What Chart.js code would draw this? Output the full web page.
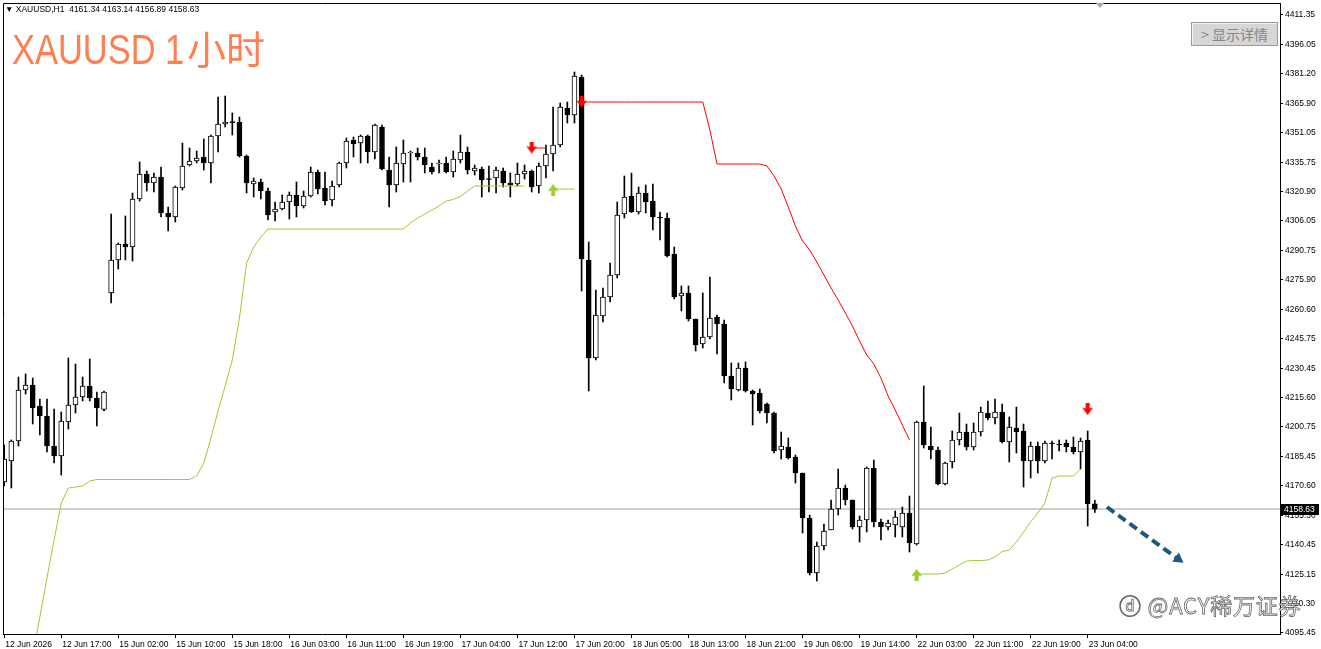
<!DOCTYPE html>
<html>
<head>
  <meta charset="utf-8" />
  <title>XAUUSD 1小时</title>
  <script src="https://cdn.jsdelivr.net/npm/chart.js"></script>
  <style>
    body { margin: 0; background: #fff; }
    #wrap { position: relative; width: 1321px; height: 649px; overflow: hidden; }
    #chart { position: absolute; left: 0; top: 0; }
    #info { position: absolute; left: 5px; top: 3px; font: 8.5px "Liberation Sans"; line-height: 13px; color: #000; white-space: pre; }
    #title { position: absolute; left: 12px; top: 24px; color: #ff7f50; font: 39px "Noto Sans CJK SC"; line-height: 46px; white-space: nowrap; }
    #title .lat { display: inline-block; font: 42px "Liberation Sans"; transform: scaleX(0.82); transform-origin: 0 0; margin-right: -35px; }
    #details { position: absolute; left: 1191px; top: 22px; width: 87px; height: 24px; box-sizing: border-box;
      background: #d6d6d6; border: 1px solid #9a9a9a; box-shadow: inset 1px 1px 0 #f4f4f4;
      color: #858585; font: 14px "Noto Sans CJK SC"; line-height: 22px; padding-left: 9px; white-space: nowrap; }
    #shift { position: absolute; left: 1096px; top: 3px; width: 0; height: 0;
      border-left: 4px solid transparent; border-right: 4px solid transparent; border-top: 5px solid #a8a8a8; }
    #mark { position: absolute; left: 1119px; top: 590px; font: 22px "Noto Sans CJK SC"; line-height: 28px; color: #fff;
      letter-spacing: 0.8px; -webkit-text-stroke: 0.8px #6a6a6a; white-space: nowrap; }
  </style>
</head>

<body>
  <div id="wrap">
    <canvas id="chart" width="1321" height="649"></canvas>
    <div id="info">▼ XAUUSD,H1  4161.34 4163.14 4156.89 4158.63</div>
    <div id="title"><span class="lat">XAUUSD 1</span>小时</div>
    <div id="details">&gt; 显示详情</div>
    <div id="shift"></div>
    <div id="mark">ⓓ @ACY稀万证券</div>
  </div>
</body>

<script>
  // time axis labels, one every 8 bars
  const timeLabels = [
    "12 Jun 2026", "12 Jun 17:00", "15 Jun 02:00", "15 Jun 10:00", "15 Jun 18:00",
    "16 Jun 03:00", "16 Jun 11:00", "16 Jun 19:00", "17 Jun 04:00", "17 Jun 12:00",
    "17 Jun 20:00", "18 Jun 05:00", "18 Jun 13:00", "18 Jun 21:00", "19 Jun 06:00",
    "19 Jun 14:00", "22 Jun 03:00", "22 Jun 11:00", "22 Jun 19:00", "23 Jun 04:00",
  ];
  const priceTicks = [
    4411.35, 4396.05, 4381.20, 4365.90, 4351.05, 4335.75, 4320.90, 4306.05, 4290.75, 4275.90, 4260.60,
    4245.75, 4230.45, 4215.60, 4200.75, 4185.45, 4170.60, 4155.30, 4140.45, 4125.15, 4110.30, 4095.45,
  ];

  // H1 candles, bar 0 = 12 Jun 09:00
  const opens = [
    4172.48, 4183.21, 4193.43, 4219.50, 4222.06, 4211.32, 4206.21, 4190.88, 4185.77, 4203.15,
    4211.84, 4215.93, 4221.55, 4215.41, 4209.54, 4269.09, 4285.96, 4294.13, 4292.60, 4317.14,
    4329.92, 4325.32, 4328.38, 4309.98, 4307.94, 4322.76, 4334.52, 4336.56, 4338.61, 4335.54,
    4349.34, 4355.47, 4356.50, 4356.50, 4339.12, 4324.80, 4325.83, 4321.23, 4310.49, 4312.03,
    4315.60, 4319.18, 4313.56, 4318.67, 4330.94, 4322.76, 4316.63, 4324.29, 4335.54, 4347.30,
    4345.76, 4349.34, 4341.16, 4353.94, 4331.96, 4324.29, 4335.03, 4340.65, 4340.65, 4338.61,
    4333.49, 4335.03, 4335.54, 4330.94, 4337.07, 4341.16, 4331.45, 4332.47, 4327.36, 4327.87,
    4331.45, 4325.32, 4324.80, 4329.92, 4331.45, 4323.78, 4334.01, 4340.14, 4344.74, 4363.65,
    4360.08, 4379.50, 4285.96, 4235.86, 4257.33, 4267.04, 4278.29, 4309.47, 4318.67, 4310.49,
    4320.20, 4316.11, 4307.94, 4307.42, 4289.02, 4267.55, 4269.09, 4255.80, 4243.02, 4246.60,
    4256.82, 4253.24, 4226.66, 4219.50, 4230.75, 4218.99, 4217.97, 4212.35, 4207.75, 4188.83,
    4190.37, 4185.26, 4177.08, 4154.07, 4125.96, 4139.76, 4147.94, 4158.67, 4169.41, 4163.27,
    4149.47, 4153.05, 4179.63, 4152.03, 4149.47, 4150.50, 4149.47, 4156.63, 4140.78, 4203.15,
    4190.88, 4188.83, 4171.45, 4182.70, 4193.95, 4198.03, 4190.37, 4198.03, 4207.75, 4205.19,
    4208.26, 4192.92, 4200.08, 4198.55, 4183.21, 4190.88, 4183.21, 4192.41, 4191.90, 4192.41,
    4190.37, 4187.81, 4193.95, 4161.34,
  ];
  const highs = [
    4191.39, 4193.95, 4226.15, 4227.68, 4225.64, 4214.90, 4214.90, 4209.79, 4208.26, 4235.86,
    4232.79, 4226.15, 4235.35, 4218.48, 4218.99, 4309.47, 4294.65, 4308.45, 4320.20, 4336.05,
    4331.45, 4330.43, 4333.49, 4313.05, 4323.78, 4345.76, 4343.21, 4341.67, 4347.81, 4349.85,
    4369.28, 4369.79, 4361.10, 4359.05, 4339.63, 4327.87, 4327.36, 4322.76, 4315.60, 4319.18,
    4320.72, 4325.83, 4321.23, 4333.49, 4331.96, 4330.94, 4326.34, 4336.05, 4348.32, 4348.83,
    4349.85, 4349.85, 4355.47, 4354.96, 4338.61, 4343.72, 4347.30, 4341.67, 4343.21, 4343.21,
    4335.54, 4337.07, 4338.61, 4341.67, 4349.85, 4343.72, 4334.52, 4333.49, 4334.01, 4333.49,
    4332.98, 4330.43, 4335.54, 4334.52, 4331.96, 4335.54, 4344.74, 4364.16, 4366.21, 4366.72,
    4382.06, 4380.52, 4295.16, 4270.62, 4271.64, 4284.42, 4315.60, 4328.89, 4330.43, 4323.27,
    4324.29, 4324.80, 4310.49, 4309.98, 4292.60, 4272.67, 4272.67, 4255.80, 4269.09, 4277.27,
    4257.84, 4255.29, 4233.31, 4233.31, 4233.82, 4219.50, 4220.01, 4212.86, 4208.26, 4198.03,
    4194.97, 4186.28, 4177.08, 4155.61, 4141.81, 4151.01, 4163.27, 4179.12, 4170.94, 4163.27,
    4155.10, 4180.14, 4183.72, 4153.56, 4153.05, 4157.65, 4159.70, 4165.32, 4203.66, 4221.55,
    4200.59, 4190.37, 4182.70, 4198.55, 4207.75, 4202.12, 4202.64, 4210.81, 4213.88, 4214.90,
    4212.35, 4205.70, 4210.81, 4202.12, 4192.92, 4192.92, 4193.43, 4193.43, 4193.95, 4193.95,
    4195.48, 4194.97, 4198.55, 4163.14,
  ];
  const lows = [
    4170.43, 4169.41, 4190.88, 4217.46, 4202.12, 4196.50, 4187.81, 4182.19, 4176.05, 4199.57,
    4207.75, 4213.88, 4213.88, 4201.10, 4208.77, 4263.98, 4281.36, 4285.96, 4285.44, 4316.11,
    4321.23, 4320.72, 4307.94, 4300.78, 4305.38, 4321.74, 4334.01, 4335.54, 4331.96, 4325.32,
    4341.16, 4353.94, 4349.85, 4338.61, 4320.20, 4318.16, 4317.14, 4306.40, 4305.89, 4311.51,
    4306.91, 4307.94, 4312.54, 4318.16, 4319.69, 4314.07, 4313.56, 4323.27, 4332.98, 4338.61,
    4335.54, 4335.54, 4337.58, 4331.96, 4313.05, 4320.72, 4325.83, 4325.83, 4337.07, 4330.43,
    4329.92, 4330.43, 4330.43, 4328.38, 4335.54, 4329.92, 4329.41, 4318.16, 4320.72, 4320.20,
    4323.27, 4318.16, 4323.78, 4327.36, 4320.72, 4320.20, 4327.87, 4331.45, 4343.72, 4355.99,
    4355.99, 4270.11, 4218.99, 4234.84, 4254.26, 4264.49, 4276.75, 4307.42, 4310.20, 4309.47,
    4309.98, 4301.29, 4296.18, 4287.49, 4266.02, 4259.89, 4254.77, 4239.44, 4240.97, 4245.57,
    4237.91, 4223.08, 4214.39, 4218.99, 4218.48, 4201.61, 4207.75, 4202.64, 4187.30, 4184.23,
    4184.23, 4171.96, 4146.41, 4124.94, 4121.87, 4137.72, 4147.94, 4155.61, 4160.72, 4148.45,
    4141.81, 4146.92, 4149.47, 4142.83, 4147.94, 4144.36, 4144.36, 4136.69, 4140.27, 4189.86,
    4184.23, 4170.94, 4170.94, 4179.63, 4191.39, 4188.83, 4188.83, 4195.99, 4204.17, 4202.12,
    4192.41, 4182.70, 4187.30, 4169.92, 4174.52, 4177.08, 4182.19, 4184.23, 4188.32, 4187.81,
    4186.79, 4179.12, 4149.98, 4156.89,
  ];
  const closes = [
    4184.23, 4193.43, 4219.50, 4222.06, 4210.30, 4206.21, 4190.88, 4185.77, 4203.66, 4211.84,
    4215.93, 4221.55, 4215.41, 4210.30, 4218.48, 4285.96, 4294.13, 4292.60, 4317.14, 4329.92,
    4325.32, 4328.38, 4309.98, 4307.94, 4323.27, 4334.01, 4336.56, 4338.10, 4335.54, 4349.34,
    4355.47, 4356.50, 4356.20, 4339.12, 4325.32, 4326.34, 4321.23, 4308.96, 4312.03, 4315.60,
    4319.18, 4313.56, 4318.67, 4330.94, 4322.25, 4316.11, 4323.78, 4335.54, 4346.79, 4345.25,
    4349.34, 4341.16, 4354.96, 4332.47, 4324.29, 4335.54, 4340.65, 4341.16, 4338.61, 4334.52,
    4330.94, 4335.54, 4330.94, 4337.58, 4341.16, 4331.96, 4332.98, 4326.85, 4327.10, 4331.96,
    4325.32, 4324.29, 4329.92, 4331.45, 4323.27, 4334.01, 4340.14, 4344.74, 4364.16, 4360.08,
    4380.01, 4286.47, 4235.86, 4257.84, 4267.04, 4278.29, 4308.96, 4318.16, 4310.49, 4320.20,
    4315.60, 4307.94, 4307.42, 4288.00, 4267.04, 4269.09, 4255.80, 4242.51, 4246.60, 4256.31,
    4253.24, 4226.66, 4220.01, 4230.75, 4218.99, 4217.46, 4208.77, 4207.75, 4188.32, 4190.88,
    4184.74, 4177.08, 4154.07, 4125.96, 4139.76, 4147.43, 4158.67, 4169.41, 4163.27, 4149.47,
    4153.05, 4179.63, 4152.03, 4149.47, 4151.52, 4154.59, 4156.63, 4141.29, 4203.15, 4191.39,
    4188.83, 4171.45, 4182.19, 4193.95, 4198.03, 4190.37, 4198.03, 4208.26, 4205.19, 4208.26,
    4192.92, 4200.59, 4198.03, 4183.21, 4190.88, 4183.21, 4192.41, 4191.90, 4191.39, 4190.37,
    4187.81, 4193.43, 4161.34, 4158.63,
  ];

  // trend indicator, green support / red resistance (null = not drawn)
  const upLine = [
    null, null, null, null, 4084.04, 4103.47, 4123.40, 4142.83, 4161.74, 4169.41,
    4169.92, 4170.43, 4172.99, 4173.75, 4173.75, 4173.75, 4173.75, 4173.75, 4173.75, 4173.75,
    4173.75, 4173.75, 4173.75, 4173.75, 4173.75, 4173.75, 4173.75, 4175.54, 4182.19, 4194.97,
    4208.77, 4221.55, 4234.84, 4256.31, 4284.42, 4292.60, 4297.71, 4301.80, 4301.80, 4301.80,
    4301.80, 4301.80, 4301.80, 4301.80, 4301.80, 4301.80, 4301.80, 4301.80, 4301.80, 4301.80,
    4301.80, 4301.80, 4301.80, 4301.80, 4301.80, 4301.80, 4301.80, 4304.87, 4307.42, 4309.47,
    4311.51, 4313.56, 4316.11, 4316.88, 4318.42, 4321.23, 4323.78, 4323.78, 4323.78, 4323.78,
    4323.78, 4323.78, 4323.78, 4323.78, null, null, null, 4322.25, 4322.25, 4322.25,
    4322.25, null, null, null, null, null, null, null, null, null,
    null, null, null, null, null, null, null, null, null, null,
    null, null, null, null, null, null, null, null, null, null,
    null, null, null, null, null, null, null, null, null, null,
    null, null, null, null, null, null, null, null, 4125.45, 4125.45,
    4125.45, 4125.45, 4125.96, 4128.00, 4130.05, 4132.09, 4132.35, 4132.35, 4132.60, 4134.14,
    4136.95, 4137.72, 4141.81, 4146.92, 4152.03, 4156.63, 4161.74, 4174.52, 4175.54, 4175.54,
    4175.54, 4179.12, null, null,
  ];
  const downLine = [
    null, null, null, null, null, null, null, null, null, null,
    null, null, null, null, null, null, null, null, null, null,
    null, null, null, null, null, null, null, null, null, null,
    null, null, null, null, null, null, null, null, null, null,
    null, null, null, null, null, null, null, null, null, null,
    null, null, null, null, null, null, null, null, null, null,
    null, null, null, null, null, null, null, null, null, null,
    null, null, null, null, 4343.21, 4343.21, 4343.21, null, null, null,
    null, 4366.72, 4366.72, 4366.72, 4366.72, 4366.72, 4366.72, 4366.72, 4366.72, 4366.72,
    4366.72, 4366.72, 4366.72, 4366.72, 4366.72, 4366.72, 4366.72, 4366.72, 4366.72, 4352.41,
    4335.03, 4335.03, 4335.03, 4335.03, 4335.03, 4335.03, 4335.03, 4334.01, 4328.89, 4322.25,
    4313.05, 4303.34, 4295.67, 4291.07, 4284.93, 4278.29, 4271.64, 4265.51, 4258.86, 4252.22,
    4244.55, 4237.39, 4232.79, 4225.64, 4216.44, 4209.28, 4201.61, 4193.95, null, null,
    null, null, null, null, null, null, null, null, null, null,
    null, null, null, null, null, null, null, null, null, null,
    null, null, null, null,
  ];

  // signal arrows
  const sellBars = [74, 81, 152];
  const sellPrices = [4343.46, 4366.87, 4209.79];
  const buyBars = [77, 128];
  const buyPrices = [4321.74, 4124.94];

  // hand drawn forecast arrow
  const forecastBars = [154.7, 164.7];
  const forecastPrices = [4159.7, 4133.1];

  const lastClose = closes[closes.length - 1];

  function arrowIcon(color, down) {
    const c = document.createElement("canvas");
    c.width = 11;
    c.height = 12;
    const g = c.getContext("2d");
    const pts = [[3.5, 0], [7.5, 0], [7.5, 5.5], [11, 4.5], [5.5, 12], [0, 4.5], [3.5, 5.5]];
    g.fillStyle = color;
    g.beginPath();
    pts.forEach(([x, y], k) => {
      const yy = down ? y : 12 - y;
      if (k) g.lineTo(x, yy); else g.moveTo(x, yy);
    });
    g.closePath();
    g.fill();
    return c;
  }

  // scales must not push the plot area away from the window frame
  function noPadding(scale) {
    scale.paddingLeft = 0;
    scale.paddingRight = 0;
    scale.paddingTop = 0;
    scale.paddingBottom = 0;
  }

  const mtFrame = {
    id: "mtFrame",
    beforeDatasetsDraw(chart) {
      const { ctx, chartArea: a, scales: { y } } = chart;
      const py = Math.round(y.getPixelForValue(lastClose));
      ctx.save();
      ctx.fillStyle = "#d0d0d0";
      ctx.fillRect(a.left, py - 1, a.right - a.left, 2);
      ctx.restore();
    },
    afterDraw(chart) {
      const { ctx, chartArea: a, scales: { y } } = chart;
      const py = Math.round(y.getPixelForValue(lastClose));
      ctx.save();
      ctx.strokeStyle = "#000";
      ctx.lineWidth = 1;
      ctx.beginPath();
      ctx.moveTo(a.left + 0.5, a.bottom);
      ctx.lineTo(a.left + 0.5, a.top + 0.5);
      ctx.lineTo(a.right, a.top + 0.5);
      ctx.stroke();
      // current price box
      ctx.fillStyle = "#000";
      ctx.fillRect(a.right + 1, py - 5, 38, 11);
      ctx.fillStyle = "#fff";
      ctx.font = "8.5px 'Liberation Sans'";
      ctx.textBaseline = "middle";
      ctx.fillText(lastClose.toFixed(2), a.right + 4, py + 0.5);
      ctx.restore();
    },
  };

  const tickFont = { family: "Liberation Sans", size: 8.5 };

  new Chart(document.getElementById("chart"), {
    type: "bar",
    data: {
      datasets: [
        {
          label: "body",
          data: opens.map((o, i) => ({ x: i, y: [o, closes[i]] })),
          backgroundColor: opens.map((o, i) => (closes[i] >= o ? "#ffffff" : "#000000")),
          borderColor: "#000",
          borderWidth: 1,
          borderSkipped: false,
          barThickness: 5,
          minBarLength: 1,
          grouped: false,
          order: 1,
        },
        {
          label: "wick",
          data: lows.map((l, i) => ({ x: i, y: [l, highs[i]] })),
          backgroundColor: "#000",
          barThickness: 1,
          grouped: false,
          order: 2,
        },
        {
          type: "line",
          label: "up",
          data: upLine.map((v, i) => ({ x: i, y: v })),
          borderColor: "#9acd32",
          borderWidth: 1,
          pointRadius: 0,
          spanGaps: false,
          order: 0,
        },
        {
          type: "line",
          label: "down",
          data: downLine.map((v, i) => ({ x: i, y: v })),
          borderColor: "#ff0000",
          borderWidth: 1,
          pointRadius: 0,
          spanGaps: false,
          order: 0,
        },
        {
          type: "line",
          label: "sell",
          data: sellBars.map((b, k) => ({ x: b, y: sellPrices[k] })),
          showLine: false,
          pointStyle: arrowIcon("#ff0000", true),
          pointRadius: 6,
          order: 0,
        },
        {
          type: "line",
          label: "buy",
          data: buyBars.map((b, k) => ({ x: b, y: buyPrices[k] })),
          showLine: false,
          pointStyle: arrowIcon("#9acd32", false),
          pointRadius: 6,
          order: 0,
        },
        {
          type: "line",
          label: "forecast",
          data: forecastBars.map((b, k) => ({ x: b, y: forecastPrices[k] })),
          borderColor: "#1c5a7d",
          borderWidth: 4,
          borderDash: [9, 5],
          pointStyle: "triangle",
          pointRadius: [0, 6.5],
          pointRotation: 126,
          pointBackgroundColor: "#1c5a7d",
          pointBorderWidth: 0,
          order: 0,
        },
      ],
    },
    options: {
      responsive: false,
      animation: false,
      devicePixelRatio: 1,
      layout: { autoPadding: false, padding: { left: 3, top: 3, right: 0, bottom: 0 } },
      plugins: { legend: { display: false }, tooltip: { enabled: false } },
      scales: {
        x: {
          type: "linear",
          min: -0.17,
          max: 178.98,
          offset: false,
          grid: { drawOnChartArea: false, offset: false, color: "#000", tickLength: 4 },
          border: { color: "#000" },
          ticks: {
            autoSkip: false,
            maxRotation: 0,
            align: "start",
            padding: 2,
            labelOffset: 1,
            color: "#000",
            font: tickFont,
            callback: (value, index) => timeLabels[index],
          },
          afterBuildTicks: (scale) => {
            scale.ticks = timeLabels.map((t, k) => ({ value: k * 8 }));
          },
          afterFit: (scale) => {
            scale.height = 15;
            noPadding(scale);
          },
        },
        y: {
          type: "linear",
          position: "right",
          min: 4094.78,
          max: 4417.33,
          grid: { drawOnChartArea: false, color: "#000", tickLength: 3 },
          border: { color: "#000" },
          ticks: {
            autoSkip: false,
            padding: 2,
            color: "#000",
            font: tickFont,
            callback: (value) => value.toFixed(2),
          },
          afterBuildTicks: (scale) => {
            scale.ticks = priceTicks.map((v) => ({ value: v }));
          },
          afterFit: (scale) => {
            scale.width = 41;
            noPadding(scale);
          },
        },
      },
    },
    plugins: [mtFrame],
  });
</script>
</html>
